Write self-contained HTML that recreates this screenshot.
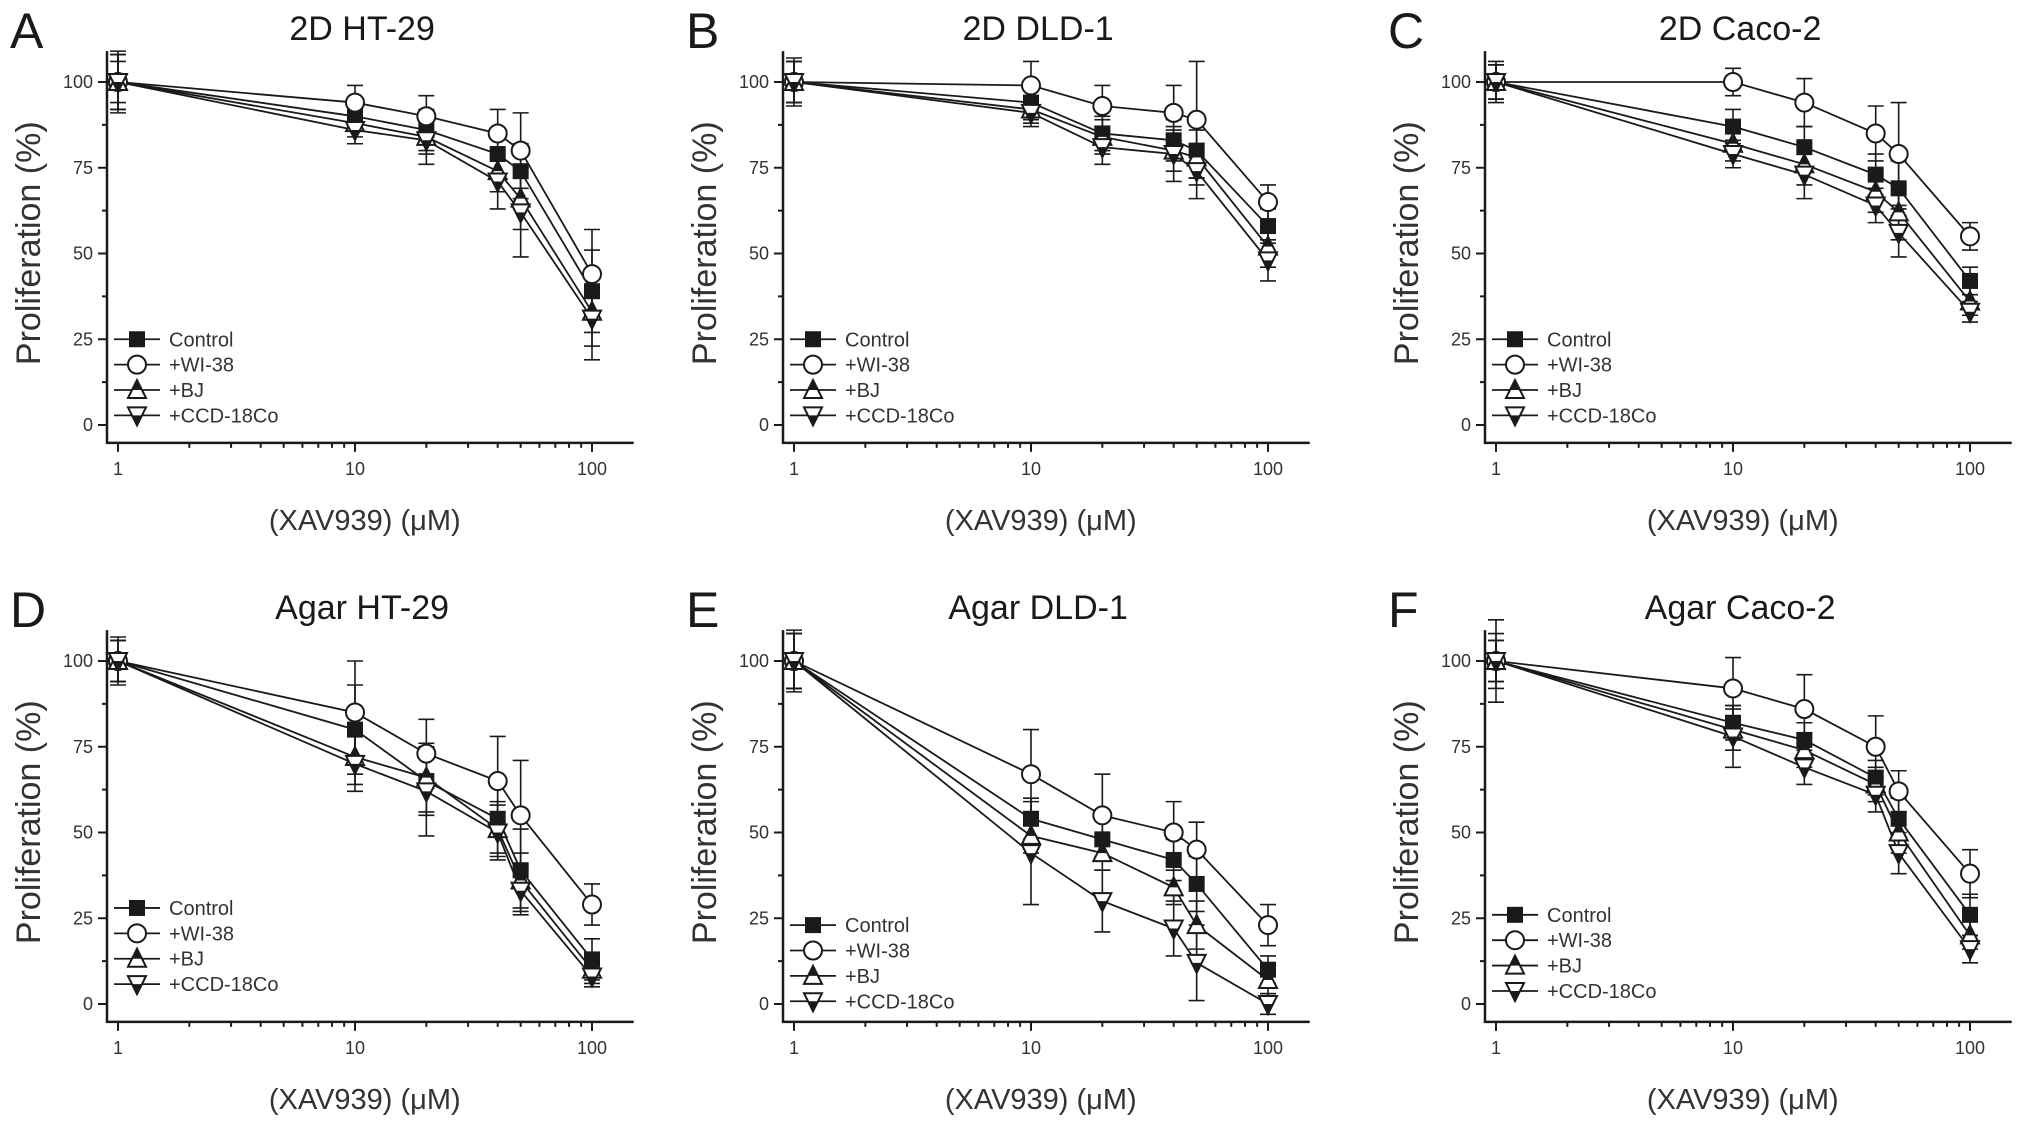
<!DOCTYPE html>
<html><head><meta charset="utf-8"><style>
html,body{margin:0;padding:0;background:#fff;}
svg{display:block;font-family:"Liberation Sans",Arial,sans-serif;}
</style></head><body>
<svg id="fig" width="2031" height="1121" viewBox="0 0 2031 1121"></svg>
<script>
const doses = [1, 10, 20, 40, 50, 100];
const seriesNames = ["Control", "+WI-38", "+BJ", "+CCD-18Co"];
const panelTitles = ["2D HT-29", "2D DLD-1", "2D Caco-2", "Agar HT-29", "Agar DLD-1", "Agar Caco-2"];
const panelLetters = ["A", "B", "C", "D", "E", "F"];
const yTicks = [0, 25, 50, 75, 100];
const xTicks = [1, 10, 100];
const legendTop = [25, 25, 25, 28, 23, 26];
// values per panel: [Control, WI-38, BJ, CCD]
const valsA = [[100,90,86,79,74,39],[100,94,90,85,80,44],[100,88,84,74,66,33],[100,86,83,71,62,31]];
const errsA = [[6,4,6,6,8,12],[8,5,6,7,11,13],[8,4,5,6,9,10],[9,4,7,8,13,12]];
const valsB = [[100,94,85,83,80,58],[100,99,93,91,89,65],[100,92,84,80,78,52],[100,91,81,79,74,48]];
const errsB = [[6,5,5,6,8,5],[7,7,6,8,17,5],[6,4,5,6,8,6],[6,4,5,8,8,6]];
const valsC = [[100,87,81,73,69,42],[100,100,94,85,79,55],[100,82,76,68,62,36],[100,79,73,64,56,33]];
const errsC = [[5,5,6,6,8,4],[6,4,7,8,15,4],[5,5,6,6,8,4],[5,4,7,5,7,3]];
const valsD = [[100,80,65,54,39,13],[100,85,73,65,55,29],[100,72,66,51,36,10],[100,70,62,50,33,8]];
const errsD = [[6,13,10,10,12,6],[7,15,10,13,16,6],[6,8,10,8,8,4],[6,8,13,8,7,3]];
const valsE = [[100,54,48,42,35,10],[100,67,55,50,45,23],[100,49,44,34,23,7],[100,44,30,22,12,0]];
const errsE = [[8,6,6,6,8,4],[9,13,12,9,8,6],[8,5,5,5,7,4],[8,15,9,8,11,3]];
const valsF = [[100,82,77,66,54,26],[100,92,86,75,62,38],[100,80,74,64,50,20],[100,78,69,61,44,16]];
const errsF = [[6,5,5,5,6,6],[8,9,10,9,6,7],[6,6,5,5,6,4],[12,9,5,5,6,4]];
const allVals = [valsA, valsB, valsC, valsD, valsE, valsF];
const allErrs = [errsA, errsB, errsC, errsD, errsE, errsF];

const NS = "http://www.w3.org/2000/svg";
const svg = document.getElementById("fig");
function mk(tag, attrs, parent, txt){const e=document.createElementNS(NS,tag);for(const k in attrs)e.setAttribute(k,attrs[k]);if(txt!==undefined)e.textContent=txt;(parent||svg).appendChild(e);return e;}
const colOff=[0,676,1378], rowOff=[0,579];
const X1=118, DEC=237, Y100=82, Y0=425;
const INK="#1a1a1a";

function marker(g, kind, cx, cy, s){
  if(kind===0){mk("rect",{x:cx-s,y:cy-s,width:2*s,height:2*s,fill:INK},g);}
  else if(kind===1){mk("circle",{cx:cx,cy:cy,r:s+1,fill:"#fff",stroke:INK,"stroke-width":2},g);}
  else if(kind===2){
    mk("polygon",{points:`${cx},${cy-s-2} ${cx+s+1},${cy+s} ${cx-s-1},${cy+s}`,fill:"#fff",stroke:INK,"stroke-width":2},g);
    mk("polygon",{points:`${cx},${cy-s-2} ${cx+s*0.55},${cy} ${cx-s*0.55},${cy}`,fill:INK},g);
  } else {
    mk("polygon",{points:`${cx-s-1},${cy-s} ${cx+s+1},${cy-s} ${cx},${cy+s+2}`,fill:"#fff",stroke:INK,"stroke-width":2},g);
    mk("polygon",{points:`${cx-s*0.55},${cy} ${cx+s*0.55},${cy} ${cx},${cy+s+2}`,fill:INK},g);
  }
}

for(let p=0;p<6;p++){
  const ox=colOff[p%3], oy=rowOff[Math.floor(p/3)];
  const xs=v=>ox+X1+DEC*Math.log10(v);
  const ys=v=>oy+Y0-(Y0-Y100)*v/100;
  const g=mk("g",{});
  
  
  const L=mk("text",{x:ox+10,y:oy+48,"font-size":50,fill:INK},g,panelLetters[p]);
  
  
  const T=mk("text",{x:ox+X1+DEC*1.03,y:oy+40,"font-size":34,fill:INK,"text-anchor":"middle"},g,panelTitles[p]);
  
  
  const axL=ox+X1-11, axB=ys(-5.2), axT=ys(109), axR=xs(150);
  const ax=mk("path",{d:`M${axL},${axT}V${axB}H${axR}`,stroke:INK,"stroke-width":2.5,fill:"none"},g);
  
  
  for(let v=0;v<=100;v+=12.5){const maj=v%25===0;mk("line",{x1:axL-(maj?9:5),x2:axL,y1:ys(v),y2:ys(v),stroke:INK,"stroke-width":2},g);}
  yTicks.forEach(v=>{const t=mk("text",{x:axL-14,y:ys(v)+6,"font-size":18,"text-anchor":"end",fill:"#333"},g,String(v));
    
    });
  for(let d=1;d<=100;d*=10){for(let k=1;k<10;k++){const v=d*k;if(v>150)break;const maj=k===1;mk("line",{x1:xs(v),x2:xs(v),y1:axB,y2:axB+(maj?9:5),stroke:INK,"stroke-width":2},g);}}
  xTicks.forEach(v=>{const t=mk("text",{x:xs(v),y:axB+32,"font-size":18,"text-anchor":"middle",fill:"#333"},g,String(v));
    
    });
  const yl=mk("text",{x:0,y:0,"font-size":34,"text-anchor":"middle",fill:"#333",transform:`translate(${ox+40},${ys(53)}) rotate(-90)`},g,"Proliferation (%)");
  
  
  const xl=mk("text",{x:xs(11),y:oy+530,"font-size":29,"text-anchor":"middle",fill:"#333"},g,"(XAV939) (μM)");
  
  
  const vals=allVals[p], errs=allErrs[p];
  for(let s=0;s<4;s++){
    const sg=mk("g",{},g);
    
    
    mk("polyline",{points:doses.map((d,i)=>`${xs(d)},${ys(vals[s][i])}`).join(" "),fill:"none",stroke:INK,"stroke-width":1.8},sg);
    doses.forEach((d,i)=>{const x=xs(d),y1=ys(vals[s][i]+errs[s][i]),y2=ys(vals[s][i]-errs[s][i]);
      mk("path",{d:`M${x},${y1}V${y2}M${x-8},${y1}H${x+8}M${x-8},${y2}H${x+8}`,stroke:INK,"stroke-width":1.6,fill:"none"},sg);});
  }
  for(let s=0;s<4;s++){doses.forEach((d,i)=>{marker(g,s,xs(d),ys(vals[s][i]),8);});}
  const lg=mk("g",{},g);
  
  
  for(let s=0;s<4;s++){
    const y=ys(legendTop[p]-7.4*s), x0=ox+X1-4;
    const e=mk("g",{},lg);
    
    
    mk("line",{x1:x0,x2:x0+46,y1:y,y2:y,stroke:INK,"stroke-width":1.8},e);
    marker(e,s,x0+23,y,8);
    mk("text",{x:x0+55,y:y+7,"font-size":20,fill:"#333"},e,seriesNames[s]);
  }
}
</script>
</body></html>
